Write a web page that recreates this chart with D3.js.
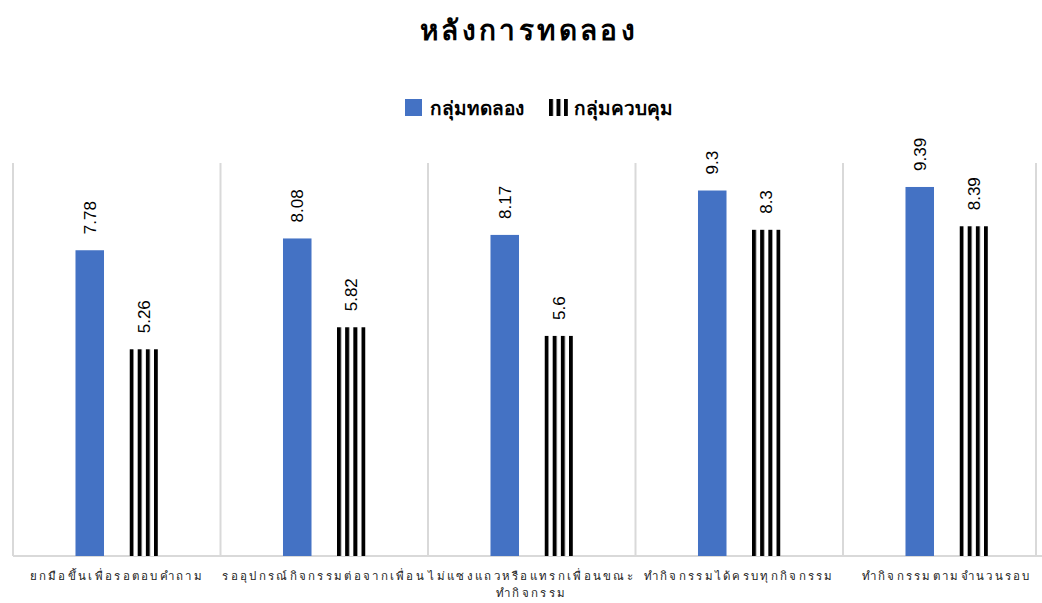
<!DOCTYPE html>
<html>
<head>
<meta charset="utf-8">
<script src="https://cdn.jsdelivr.net/npm/d3@7"></script>
<style>
  html, body { margin: 0; padding: 0; background: #fff; }
  svg { display: block; font-family: "Noto Sans", "Liberation Sans", sans-serif; }
</style>
</head>
<body>
<svg id="chart" width="1042" height="603"></svg>
<script>
const title = "หลังการทดลอง";
const categories = [
  "ยกมือขึ้นเพื่อรอตอบคำถาม",
  "รออุปกรณ์กิจกรรมต่อจากเพื่อน",
  "ไม่แซงแถวหรือแทรกเพื่อนขณะทำกิจกรรม",
  "ทำกิจกรรมได้ครบทุกกิจกรรม",
  "ทำกิจกรรมตามจำนวนรอบ"
];
const categoryLines = [
  ["ยกมือขึ้นเพื่อรอตอบคำถาม"],
  ["รออุปกรณ์กิจกรรมต่อจากเพื่อน"],
  ["ไม่แซงแถวหรือแทรกเพื่อนขณะ", "ทำกิจกรรม"],
  ["ทำกิจกรรมได้ครบทุกกิจกรรม"],
  ["ทำกิจกรรมตามจำนวนรอบ"]
];
const seriesNames = ["กลุ่มทดลอง", "กลุ่มควบคุม"];
const experimental = [7.78, 8.08, 8.17, 9.3, 9.39];
const control = [5.26, 5.82, 5.6, 8.3, 8.39];
const yDomain = [0, 10];

const W = 1042, H = 603;
const svg = d3.select("#chart");
const defs = svg.append("defs");

const plot = { left: 13, right: 1050.5, top: 163, bottom: 556 };

const x0 = d3.scaleBand().domain(categories).range([plot.left, plot.right]).padding(0);
const x1 = d3.scaleBand().domain(seriesNames).range([0, x0.bandwidth()])
  .paddingInner(0.472).paddingOuter(1.157);
const y = d3.scaleLinear().domain(yDomain).range([plot.bottom, plot.top]);

const gridColor = "#d9d9d9";

// vertical separators between categories
const seps = categories.map(c => x0(c));
svg.append("g").selectAll("line").data(seps).join("line")
  .attr("x1", d => d).attr("x2", d => d)
  .attr("y1", plot.top).attr("y2", plot.bottom)
  .attr("stroke", gridColor).attr("stroke-width", 2);
svg.append("line")
  .attr("x1", Math.min(plot.right, W - 6)).attr("x2", Math.min(plot.right, W - 6))
  .attr("y1", plot.top).attr("y2", plot.bottom)
  .attr("stroke", gridColor).attr("stroke-width", 2);

// baseline
svg.append("line")
  .attr("x1", plot.left).attr("x2", W)
  .attr("y1", y(0)).attr("y2", y(0))
  .attr("stroke", gridColor).attr("stroke-width", 2);

const blue = "#4472c4";
const data = categories.map((c, i) => ({ c, vals: [experimental[i], control[i]] }));

function stripePattern(id, x0p, period) {
  const p = defs.append("pattern").attr("id", id)
    .attr("patternUnits", "userSpaceOnUse")
    .attr("x", x0p).attr("y", 0)
    .attr("width", period).attr("height", 10);
  p.append("rect").attr("width", period).attr("height", 10).attr("fill", "#fff");
  p.append("rect").attr("width", 4).attr("height", 10).attr("fill", "#000");
}

data.forEach((d, i) => {
  const g = svg.append("g").attr("transform", `translate(${x0(d.c)},0)`);
  seriesNames.forEach((s, j) => {
    const v = d.vals[j];
    const bx = x1(s);
    const bw = x1.bandwidth();
    let fill = blue;
    if (j === 1) {
      const id = "stripe" + i;
      stripePattern(id, bx, (bw - 4) / 3);
      fill = `url(#${id})`;
    }
    g.append("rect")
      .attr("x", bx).attr("y", y(v))
      .attr("width", bw).attr("height", y(0) - y(v))
      .attr("fill", fill);
    const cx = bx + bw / 2;
    const ty = y(v) - 16;
    g.append("text")
      .attr("transform", `translate(${cx},${ty}) rotate(-90)`)
      .attr("dy", "0.35em")
      .attr("text-anchor", "start")
      .attr("font-family", "'Liberation Sans', Arial, sans-serif")
      .attr("font-size", 17)
      .attr("fill", "#000")
      .text(String(v));
  });
});

// category labels
const labelG = svg.append("g");
categories.forEach((c, i) => {
  const cx = x0(c) + x0.bandwidth() / 2;
  const t = labelG.append("text")
    .attr("x", cx).attr("y", 580)
    .attr("text-anchor", "middle")
    .attr("font-size", 11.5)
    .attr("letter-spacing", 2.3)
    .attr("fill", "#222");
  categoryLines[i].forEach((w, k) => {
    t.append("tspan").attr("x", cx).attr("dy", k === 0 ? 0 : 17).text(w);
  });
});

// title
svg.append("text")
  .attr("x", W / 2 + 8).attr("y", 40)
  .attr("text-anchor", "middle")
  .attr("font-size", 28).attr("font-weight", "bold")
  .attr("letter-spacing", 3.4)
  .attr("fill", "#000")
  .text(title);

// legend
const leg = svg.append("g");
leg.append("rect").attr("x", 405).attr("y", 99).attr("width", 17).attr("height", 17).attr("fill", blue);
leg.append("text").attr("x", 430).attr("y", 108).attr("dy", "0.35em")
  .attr("font-size", 19).attr("font-weight", "bold").text(seriesNames[0]);
stripePattern("legStripe", 549, 7.5);
leg.append("rect").attr("x", 549).attr("y", 99).attr("width", 19).attr("height", 17).attr("fill", "url(#legStripe)");
leg.append("text").attr("x", 574).attr("y", 108).attr("dy", "0.35em")
  .attr("font-size", 19).attr("font-weight", "bold").text(seriesNames[1]);
</script>
</body>
</html>
